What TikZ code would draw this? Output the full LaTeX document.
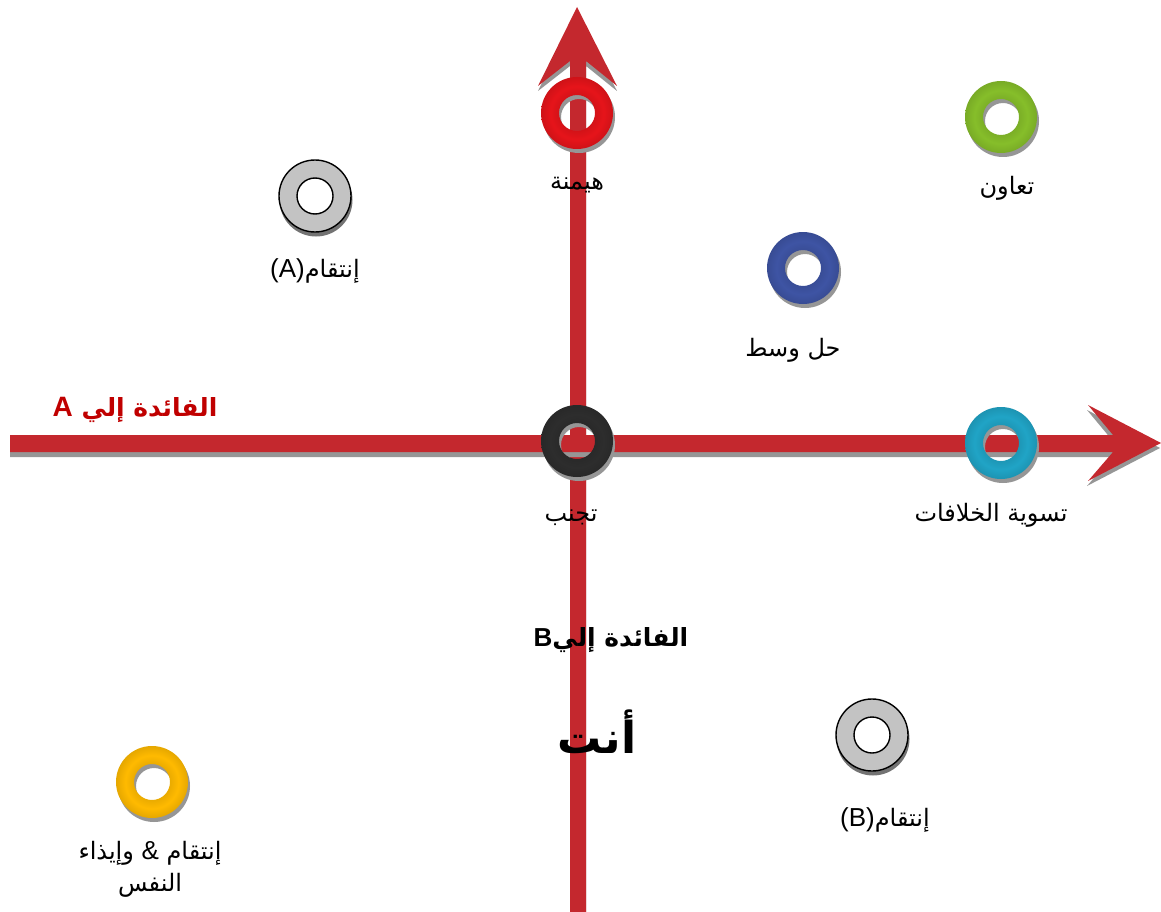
\documentclass[tikz,border=0pt]{standalone}
\usepackage{fontspec}
\setmainfont{Liberation Sans}
\newfontfamily\arabicfont[Script=Arabic]{DejaVu Sans}
\TeXXeTstate=1
\usetikzlibrary{calc}
\definecolor{axisred}{RGB}{196,40,46}
\definecolor{shadowgray}{RGB}{150,150,150}
\definecolor{ringred}{RGB}{230,20,26}
\definecolor{ringgreen}{RGB}{134,190,42}
\definecolor{ringblue}{RGB}{62,84,164}
\definecolor{ringblack}{RGB}{45,45,45}
\definecolor{ringteal}{RGB}{32,164,198}
\definecolor{ringyellow}{RGB}{255,186,0}
\definecolor{ringgray}{RGB}{195,195,195}
\definecolor{labelred}{RGB}{192,0,0}
\colorlet{ringcol}{red}
\pgfdeclareradialshading[ringcol]{torus}{\pgfpoint{0bp}{0bp}}{%
  color(0bp)=(ringcol!92!black); color(12.5bp)=(ringcol!92!black);
  color(18.5bp)=(ringcol); color(25bp)=(ringcol!90!black);
  color(50bp)=(ringcol!90!black)}
\newcommand{\myring}[2]{%
  \fill[shadowgray,even odd rule] ($(#1)+(2,4)$) circle (36) ($(#1)+(2,4)$) circle (18);
  \colorlet{ringcol}{#2}%
  \shade[shading=torus,even odd rule] (#1) circle (36) (#1) circle (18);
}
\newcommand{\mygrayring}[1]{%
  \fill[black!55] ($(#1)+(1,4)$) circle (36.5);
  \fill[white] (#1) circle (18);
  \filldraw[ringgray,draw=black,line width=1.4pt,even odd rule] (#1) circle (36) (#1) circle (18);
}
\tikzset{
  lbl/.style={font=\fontsize{24}{32}\selectfont\arabicfont, text=black, inner sep=0pt},
  axislbl/.style={font=\fontsize{25}{29}\selectfont\arabicfont\bfseries, inner sep=0pt}
}
\begin{document}
\begin{tikzpicture}[x=1pt,y=-1pt]
\useasboundingbox (0,0) rectangle (1161,912);
% vertical axis
\fill[shadowgray] (570,917) -- (570,66) -- (538,91) -- (577,12) -- (617,91) -- (586,66) -- (586,917) -- cycle;
\fill[axisred] (570,912) -- (570,61) -- (538,86) -- (577,7) -- (617,86) -- (586,61) -- (586,912) -- cycle;
% horizontal axis
\fill[shadowgray] (10,440) -- (1112,440) -- (1087,410) -- (1160,448) -- (1087,486) -- (1112,457) -- (10,457) -- cycle;
\fill[axisred] (10,435) -- (1113,435) -- (1088,405) -- (1161,443) -- (1088,481) -- (1113,452) -- (10,452) -- cycle;
% ring centres
\coordinate (cRed) at (577,113);
\coordinate (cGrayA) at (315,196);
\coordinate (cGreen) at (1001,117);
\coordinate (cBlue) at (803,268);
\coordinate (cBlack) at (577,441);
\coordinate (cTeal) at (1001,443);
\coordinate (cGrayB) at (872,735);
\coordinate (cYellow) at (152,782);
\myring{cRed}{ringred}
\mygrayring{cGrayA}
\myring{cGreen}{ringgreen}
\myring{cBlue}{ringblue}
\myring{cBlack}{ringblack}
\myring{cTeal}{ringteal}
\mygrayring{cGrayB}
\myring{cYellow}{ringyellow}
% labels
\node[lbl] (tRed) at (577,185) {\beginR هيمنة\endR};
\node[lbl] (tGrayA) at (315,271) {{\fontsize{26}{30}\selectfont\rmfamily (A)}\beginR إنتقام\endR};
\node[lbl] (tGreen) at (1007,188) {\beginR تعاون\endR};
\node[lbl] (tBlue) at (793,350) {\beginR حل وسط\endR};
\node[lbl] (tTeal) at (991,515) {\beginR تسوية الخلافات\endR};
\node[lbl] (tBlack) at (571,518) {\beginR تجنب\endR};
\node[lbl] (tGrayB) at (885,820) {{\fontsize{26}{30}\selectfont\rmfamily (B)}\beginR إنتقام\endR};
\node[lbl,align=center] (tYellow) at (150,869) {\beginR وإيذاء\endR{} {\fontsize{26}{30}\selectfont\rmfamily\&} \beginR إنتقام\endR\\ \beginR النفس\endR};
\node[axislbl,text=labelred] (axA) at (135,410) {{\fontsize{28}{30}\selectfont\rmfamily\bfseries A} \beginR الفائدة إلي\endR};
\node[axislbl,text=black] (axB) at (611,640) {{\fontsize{26}{30}\selectfont\rmfamily\bfseries B}\beginR الفائدة إلي\endR};
\node[font=\fontsize{44}{48}\selectfont\arabicfont\bfseries,inner sep=0pt] (you) at (597,732) {\beginR أنت\endR};
\end{tikzpicture}
\end{document}
